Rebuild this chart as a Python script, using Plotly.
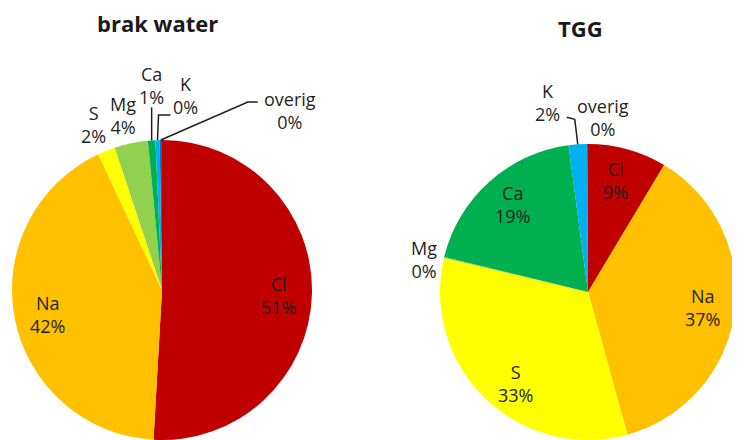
import math
import plotly.graph_objects as go

# ---------------- data ----------------
elements = ["Cl", "Na", "S", "Mg", "Ca", "K", "overig"]
brak_water = [50.9, 42.1, 1.9, 3.6, 0.8, 0.45, 0.25]
tgg = [8.6, 37.1, 33.0, 0.1, 19.1, 2.0, 0.1]
titles = ["brak water", "TGG"]
colors = ["#C00000", "#FFC000", "#FFFF00", "#92D050", "#00B050", "#00B0F0", "#0070C0"]

# ---------------- layout / style ----------------
VW, VH = 740, 440          # browser window
OFF = 8                    # default page (body) margin
W, H = VW - OFF, VH - OFF  # figure size
FONT = "Open Sans"
TXT = "#1f1f1f"

# pie geometry in window pixels: centre x, centre y, radius
# label spec: ("rad", radius factor, dx, dy)  -> label along slice mid-angle
#             ("off", dx, dy, leader offsets) -> label offset from the slice's rim point
pies = [
    dict(values=brak_water, title=titles[0], cx=162, cy=290, R=150, tx=157, ty=23,
         spec={"Cl": ("rad", 0.78, 0, 2), "Na": ("rad", 0.78, 0, 2),
               "S": ("rad", 1.19, -2, 0), "Mg": ("rad", 1.19, -2, 0),
               "Ca": ("off", 0, -55, [(0, 0), (0, -33)]),
               "K": ("off", 28, -45, [(0, 0), (1, -25), (13, -25)]),
               "overig": ("off", 129, -30, [(0, 0), (87, -38), (97, -38)])}),
    dict(values=tgg, title=titles[1], cx=588, cy=292, R=148, tx=580, ty=28,
         spec={"Cl": ("rad", 0.78, -3, 0), "Na": ("rad", 0.78, 0, 0),
               "S": ("rad", 0.78, 8, 8), "Mg": ("rad", 1.14, 0, 7),
               "Ca": ("rad", 0.78, 2, -2),
               "K": ("off", -30, -42, [(0, 0), (-3, -25), (-11, -27)]),
               "overig": ("off", 15, -27, None)}),
]


def px2paper(x, y):
    return (x - OFF) / W, 1 - (y - OFF) / H


fig = go.Figure()
annotations = []
shapes = []
for p in pies:
    cx, cy, R = p["cx"], p["cy"], p["R"]
    x0, y1 = px2paper(cx - R, cy + R)
    x1, y0 = px2paper(cx + R, cy - R)
    fig.add_trace(go.Pie(
        labels=elements, values=p["values"], sort=False, direction="clockwise", rotation=0,
        marker=dict(colors=colors, line=dict(width=0)),
        textinfo="none", hoverinfo="label+percent", showlegend=False,
        domain=dict(x=[max(0, x0), min(1, x1)], y=[max(0, y1), min(1, y0)]),
    ))
    total = sum(p["values"])
    cum = 0.0
    for name, v in zip(elements, p["values"]):
        frac = v / total
        mid = (cum + frac / 2) * 2 * math.pi
        cum += frac
        text = f"{name}<br>{round(frac * 100)}%"
        s = p["spec"][name]
        if s[0] == "rad":
            r = s[1] * R
            lx, ly = cx + r * math.sin(mid) + s[2], cy - r * math.cos(mid) + s[3]
        else:
            rx, ry = cx + R * math.sin(mid), cy - R * math.cos(mid)
            lx, ly = rx + s[1], ry + s[2]
            if s[3]:
                pts = [px2paper(rx + dx, ry + dy) for dx, dy in s[3]]
                path = "M " + " L ".join(f"{a:.5f},{b:.5f}" for a, b in pts)
                shapes.append(dict(type="path", xref="paper", yref="paper", path=path,
                                   line=dict(color=TXT, width=1.5)))
        x, y = px2paper(lx, ly)
        annotations.append(dict(x=x, y=y, xref="paper", yref="paper", text=text,
                                xanchor="center", yanchor="middle", showarrow=False,
                                font=dict(family=FONT, size=18, color=TXT)))
    tx, ty = px2paper(p["tx"], p["ty"])
    annotations.append(dict(x=tx, y=ty, xref="paper", yref="paper", text=p["title"],
                            showarrow=False, xanchor="center", yanchor="middle",
                            font=dict(family=FONT, size=22, color="#1a1a1a", weight=700)))

fig.update_layout(
    width=W, height=H, margin=dict(l=0, r=0, t=0, b=0),
    paper_bgcolor="white", plot_bgcolor="white",
    annotations=annotations, shapes=shapes,
)
fig.write_html("out.html")
